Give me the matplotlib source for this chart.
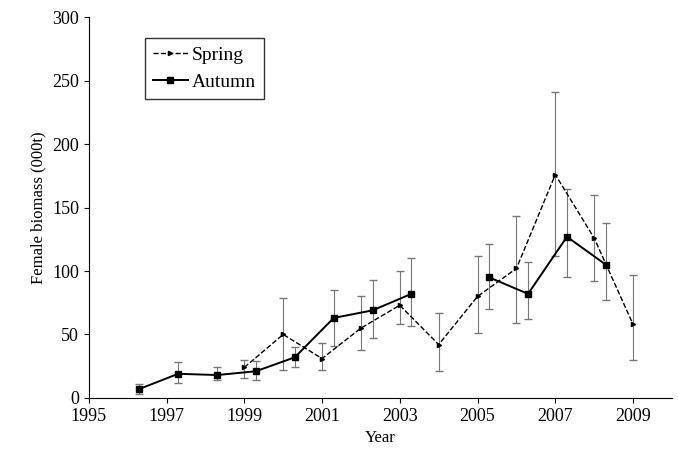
import matplotlib; matplotlib.use("Agg")
import matplotlib.pyplot as plt
from matplotlib.lines import Line2D

spring_yr=[1999,2000,2001,2002,2003,2004,2005,2006,2007,2008,2009]
spring=[24,50,31,55,73,42,80,102,176,126,58]
spring_lo=[16,22,22,38,58,21,51,59,112,92,30]
spring_hi=[30,79,43,80,100,67,112,143,241,160,97]

aut_yr=[1996.3,1997.3,1998.3,1999.3,2000.3,2001.3,2002.3,2003.3,2005.3,2006.3,2007.3,2008.3]
aut=[7,19,18,21,32,63,69,82,95,82,127,105]
aut_lo=[3,12,14,14,24,41,47,57,70,62,95,77]
aut_hi=[11,28,24,29,40,85,93,110,121,107,165,138]

plt.rcParams['font.family']=['Liberation Serif','DejaVu Serif']
fig=plt.figure(figsize=(6.78,4.67),dpi=100)
ax=fig.add_axes([0.131,0.148,0.86,0.815])

def err(v,lo,hi): return [[a-b for a,b in zip(v,lo)],[c-a for a,c in zip(v,hi)]]

ax.errorbar(spring_yr,spring,yerr=err(spring,spring_lo,spring_hi),fmt='--',marker='>',ms=3,
            color='black',ecolor='#777777',elinewidth=0.8,capsize=3,lw=1)
seg=[(0,8),(8,12)]
for a,b in seg:
    ax.errorbar(aut_yr[a:b],aut[a:b],yerr=err(aut[a:b],aut_lo[a:b],aut_hi[a:b]),fmt='-',marker='s',ms=4,
                color='black',ecolor='#777777',elinewidth=0.8,capsize=3,lw=1.4)
ax.set_xlim(1995,2010); ax.set_ylim(0,300)
ax.set_xticks(range(1995,2010,2)); ax.set_yticks(range(0,301,50))
ax.tick_params(labelsize=13,direction='out')
for s in ['top','right']: ax.spines[s].set_visible(False)
ax.set_xlabel('Year',fontsize=12); ax.set_ylabel('Female biomass (000t)',fontsize=12)
h=[Line2D([],[],ls='--',marker='>',ms=3,color='black',lw=1),
   Line2D([],[],ls='-',marker='s',ms=4,color='black',lw=1.4)]
ax.legend(h,['Spring','Autumn'],loc='upper left',bbox_to_anchor=(0.08,0.97),fancybox=False,
          edgecolor='black',fontsize=14,handlelength=1.8,handletextpad=0.2)
fig.savefig('out.png')
